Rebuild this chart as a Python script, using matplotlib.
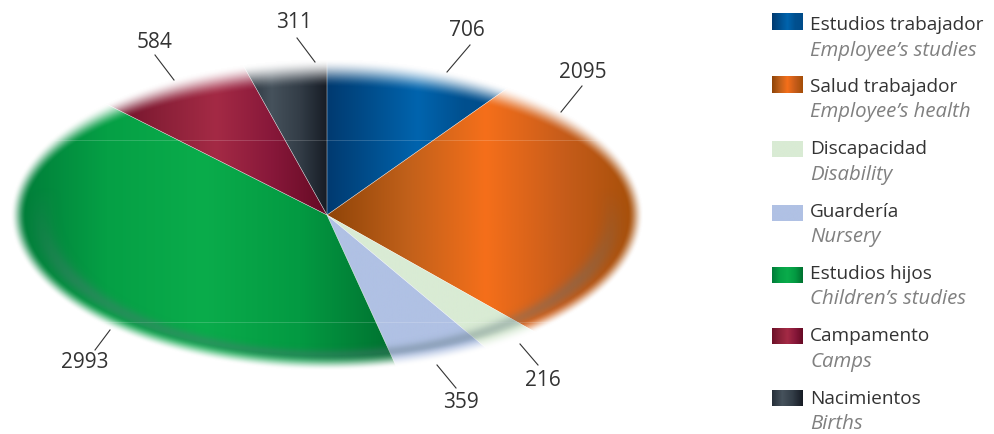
import numpy as np
import matplotlib
matplotlib.use("Agg")
import matplotlib.pyplot as plt
from matplotlib.colors import LinearSegmentedColormap

# data, clockwise from twelve o'clock
categories = ["Estudios trabajador", "Salud trabajador", "Discapacidad", "Guardería",
              "Estudios hijos", "Campamento", "Nacimientos"]
categories_en = ["Employee’s studies", "Employee’s health", "Disability", "Nursery",
                 "Children’s studies", "Camps", "Births"]
values = [706, 2095, 216, 359, 2993, 584, 311]

# gradient stops (left to right) for each slice
gradients = [
    ["#003a70", "#004f8e", "#0064ae", "#00508f", "#004c8a"],
    ["#8f4408", "#c0601a", "#f56f1a", "#c65c1a", "#a34e08"],
    ["#d9ebd4", "#d9ebd4"],
    ["#b0c1e4", "#b0c1e4"],
    ["#007a38", "#05a045", "#0aac4b", "#039a42", "#00702f"],
    ["#6d1028", "#8a2038", "#a42a45", "#88183a", "#650a24"],
    ["#262f39", "#46525c", "#333d47", "#161b24"],
]

W, H = 995, 434
# pie ellipse in pixels
CX, CY, RX, RY = 327, 215, 317, 156

# text position and leader ends, in pixels from the top left
label_pos = [(467, 31), (583, 73), (543, 381), (461, 402), (85, 363), (155, 42), (294, 22)]
leaders = [((447, 72), (470, 45)), ((561, 112), (582, 86)), ((538, 365), (520, 344)),
           ((456, 388), (437, 365)), ((95, 350), (110, 330)), ((174, 80), (155, 55)),
           ((315, 62), (297, 38))]
swatch_y = [(13, 30), (76, 93), (141, 157), (205, 221), (267, 283), (328, 344), (390, 406)]
legend_es_y = [25, 87, 149, 212, 274, 336, 399]
legend_en_y = [51, 112, 175, 237, 299, 362, 424]

plt.rcParams["font.family"] = ["Open Sans", "DejaVu Sans"]


def px_axes(fig, x0, y0, x1, y1):
    return fig.add_axes([x0 / W, 1 - y1 / H, (x1 - x0) / W, (y1 - y0) / H])


fig = plt.figure(figsize=(W / 100, H / 100), dpi=100, facecolor="white")
ax = px_axes(fig, CX - RX, CY - RY, CX + RX, CY + RY)

wedges, _ = ax.pie(values, startangle=90, counterclock=False, radius=1.0,
                   wedgeprops={"linewidth": 0})
ax.set_aspect("auto")
ax.set_xlim(-1, 1)
ax.set_ylim(-1, 1)

cmaps = [LinearSegmentedColormap.from_list(c, g) for c, g in zip(categories, gradients)]
ramp = np.linspace(0, 1, 256).reshape(1, -1)

for wedge, cmap in zip(wedges, cmaps):
    box = wedge.get_path().get_extents(wedge.get_patch_transform())
    im = ax.imshow(ramp, cmap=cmap, aspect="auto", zorder=2,
                   extent=(box.x0, box.x1, -1, 1))
    im.set_clip_path(wedge)
    wedge.set_facecolor("none")
    wedge.set_edgecolor((1, 1, 1, 0.4))
    wedge.set_linewidth(0.4)
    wedge.set_zorder(3)
ax.set_xlim(-1, 1)
ax.set_ylim(-1, 1)

# faint horizontal hairlines across the pie
ax.axhline((CY - 140) / RY, color="white", lw=0.6, alpha=0.2, zorder=3)
ax.axhline((CY - 322) / RY, color="white", lw=0.6, alpha=0.2, zorder=3)

# soft rim: white fade, wider at top and bottom than at the sides
yy, xx = np.mgrid[1:-1:312j, -1:1:634j]
r = np.hypot(xx, yy)
phi = np.arctan2(yy, xx)
width = 0.05 + 0.13 * np.clip(np.sin(phi), 0, 1) ** 2 + 0.05 * np.clip(-np.sin(phi), 0, 1) ** 2
fade = np.clip((r - (1 - width)) / width, 0, 1)
fade = fade * fade * (3 - 2 * fade)
rim = np.ones(r.shape + (4,))
rim[..., 3] = fade
ax.imshow(rim, extent=(-1, 1, -1, 1), aspect="auto", zorder=4, interpolation="bilinear")

# muted band just inside the lower rim
band = np.exp(-((r - 0.90) / 0.035) ** 2) * np.clip(-yy / 0.6 + 0.3, 0, 1) * 0.35
shade = np.zeros(r.shape + (4,))
shade[..., :3] = (0.35, 0.45, 0.48)
shade[..., 3] = band
ax.imshow(shade, extent=(-1, 1, -1, 1), aspect="auto", zorder=3.5, interpolation="bilinear")
ax.set_xlim(-1.0, 1.0)
ax.set_ylim(-1.0, 1.0)
ax.axis("off")

# overlay in pixel coordinates for labels and legend
top = fig.add_axes([0, 0, 1, 1], facecolor="none")
top.set_xlim(0, W)
top.set_ylim(H, 0)
top.axis("off")

for val, pos, (p0, p1) in zip(values, label_pos, leaders):
    top.plot([p0[0], p1[0]], [p0[1], p1[1]], color="#333333", lw=0.8)
    top.text(pos[0], pos[1], str(val), ha="center", va="center", fontsize=15, color="#333333")

for i, cmap in enumerate(cmaps):
    y0, y1 = swatch_y[i]
    top.imshow(ramp, cmap=cmap, aspect="auto", extent=(772, 803, y1, y0))
    top.text(810, legend_es_y[i], categories[i], va="center", ha="left",
             fontsize=13.7, color="#333333")
    top.text(810, legend_en_y[i], categories_en[i], va="center", ha="left",
             fontsize=14.7, color="#808080", style="italic")
top.set_xlim(0, W)
top.set_ylim(H, 0)

fig.savefig("out.png", dpi=100, facecolor="white")
